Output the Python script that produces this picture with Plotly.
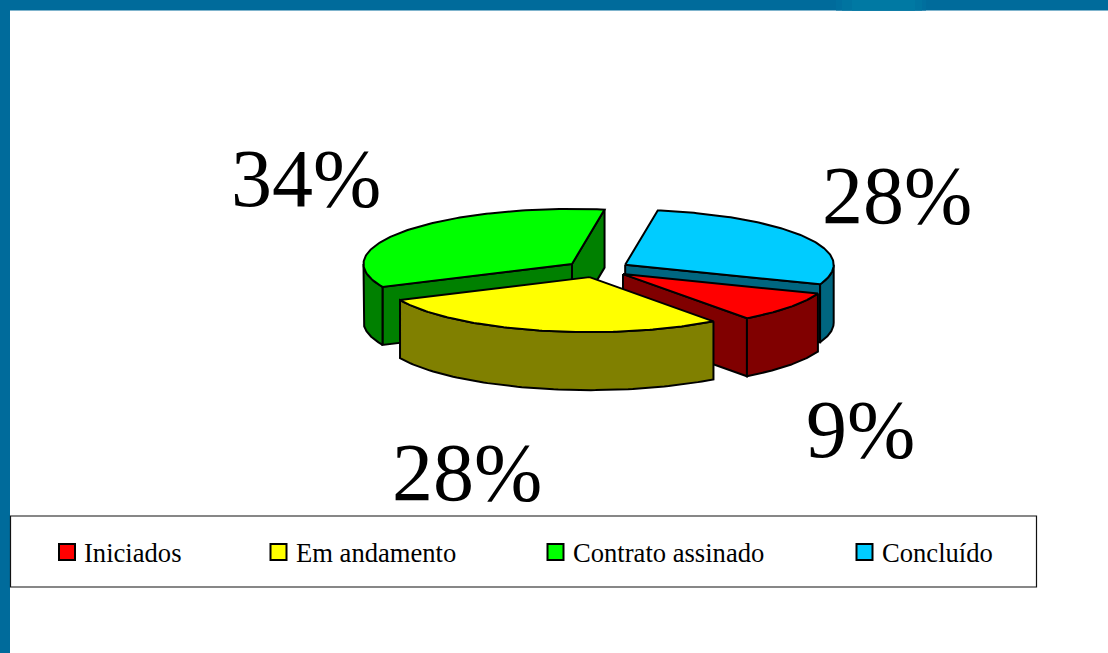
import numpy as np
import plotly.graph_objects as go

CATEGORIES = ["Iniciados", "Em andamento", "Contrato assinado", "Concluído"]
VALUES = [9, 28, 34, 28]
TOP_COLORS = ["#FF0000", "#FFFF00", "#00FF00", "#00CCFF"]
SIDE_COLORS = ["#800000", "#808000", "#008000", "#006680"]
LABEL_POS = [(860, 429), (467, 472), (306, 178), (897, 195)]
LEGEND_MARK_X = [67, 278.5, 555.5, 864.5]

W, H = 1108, 653
CX, CY = 597.5, 269
A, B = 208.5, 55
DEPTH = 58
EXPL_A, EXPL_B = 32, 8.4
START = 110.8
DRAW_ORDER = [3, 0, 2, 1]

fig = go.Figure()


def poly(xs, ys, fill):
    fig.add_trace(go.Scatter(x=np.r_[xs, xs[0]], y=np.r_[ys, ys[0]], mode="lines", fill="toself",
                             fillcolor=fill, line=dict(color="#000000", width=2),
                             hoverinfo="skip", showlegend=False))


total = sum(VALUES)
edges = START + np.r_[0, np.cumsum(VALUES)] / total * 360.0


def rim(theta, ax, ay):
    r = np.radians(theta)
    return ax + A * np.sin(r), ay - B * np.cos(r)


for i in DRAW_ORDER:
    t1, t2 = edges[i], edges[i + 1]
    mid = np.radians((t1 + t2) / 2)
    ax = CX + EXPL_A * np.sin(mid)
    ay = CY - EXPL_B * np.cos(mid)

    # cut faces that look toward the viewer
    for t, visible in ((t1, np.sin(np.radians(t1)) < 0), (t2, np.sin(np.radians(t2)) > 0)):
        if visible:
            rx, ry = rim(t, ax, ay)
            poly(np.array([ax, rx, rx, ax]), np.array([ay, ry, ry + DEPTH, ay + DEPTH]), SIDE_COLORS[i])

    # outer wall on the front half of the ellipse
    for front_lo, front_hi in ((90, 270), (450, 630)):
        lo, hi = max(t1, front_lo), min(t2, front_hi)
        if hi > lo:
            th = np.linspace(lo, hi, 80)
            xs, ys = rim(th, ax, ay)
            poly(np.r_[xs, xs[::-1]], np.r_[ys, ys[::-1] + DEPTH], SIDE_COLORS[i])

    # top face
    th = np.linspace(t1, t2, 120)
    xs, ys = rim(th, ax, ay)
    poly(np.r_[ax, xs], np.r_[ay, ys], TOP_COLORS[i])

# legend entries
fig.add_trace(go.Scatter(x=LEGEND_MARK_X, y=[552] * 4, mode="markers",
                         marker=dict(symbol="square", size=16, color=TOP_COLORS,
                                     line=dict(color="#000000", width=2)),
                         hoverinfo="skip", showlegend=False))
for name, mx in zip(CATEGORIES, LEGEND_MARK_X):
    fig.add_annotation(x=mx + 15, y=553, text=name, showarrow=False, xanchor="left", yanchor="middle",
                       font=dict(family="Liberation Serif", size=26.6, color="#000000"))

# percent labels
for v, (lx, ly) in zip(VALUES, LABEL_POS):
    fig.add_annotation(x=lx, y=ly, text=f"{v}%", showarrow=False, xanchor="center", yanchor="middle",
                       font=dict(family="Liberation Serif", size=82, color="#000000"))

FRAME = "#006B9B"
shapes = [
    dict(type="rect", x0=0, x1=W, y0=0, y1=10.5, fillcolor=FRAME, line_width=0, layer="below"),
    dict(type="rect", x0=0, x1=10, y0=0, y1=H, fillcolor=FRAME, line_width=0, layer="below"),
    dict(type="rect", x0=836, x1=926, y0=0, y1=10.5, fillcolor="#006F9E", line_width=0, layer="below"),
    dict(type="rect", x0=842, x1=922, y0=0, y1=10.5, fillcolor="#0074A0", line_width=0, layer="below"),
    dict(type="rect", x0=852, x1=915, y0=0, y1=10.5, fillcolor="#0079A3", line_width=0, layer="below"),
    dict(type="rect", x0=10.5, x1=1036.5, y0=516, y1=587, fillcolor="#FFFFFF",
         line=dict(color="#111111", width=1.2), layer="below"),
]

fig.update_layout(
    width=W, height=H, margin=dict(l=0, r=0, t=0, b=0),
    paper_bgcolor="#FFFFFF", plot_bgcolor="#FFFFFF",
    xaxis=dict(range=[0, W], visible=False, fixedrange=True),
    yaxis=dict(range=[H, 0], visible=False, fixedrange=True),
    shapes=shapes, showlegend=False,
)
fig.write_html("out.html", post_script="document.body.style.margin='0';", config={"displayModeBar": False})
